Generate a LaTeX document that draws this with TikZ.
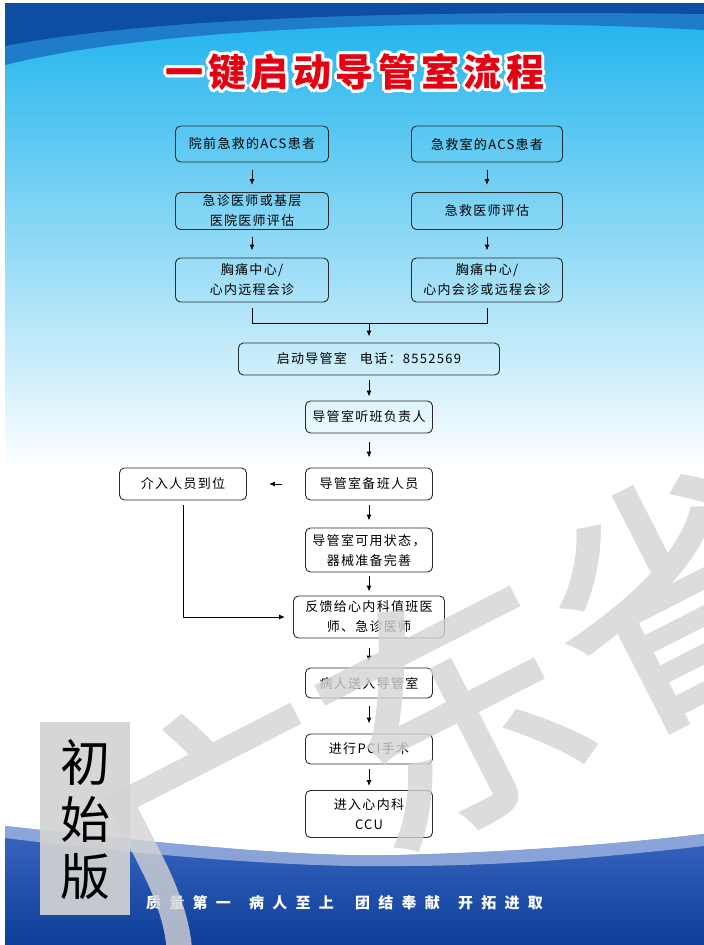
\documentclass[tikz,border=0pt]{standalone}
\usepackage{fontspec}
\usepackage{xcolor}
\usetikzlibrary{arrows.meta}
\newfontfamily\cjk{Noto Sans CJK SC}
\newfontfamily\boxfont{Noto Sans CJK SC}[LetterSpace=10]
\newfontfamily\titlefont{Noto Sans CJK SC}[LetterSpace=12]
\newfontfamily\slogfont{Noto Sans CJK SC}[LetterSpace=55]
\newfontfamily\markfont{Noto Sans CJK SC}[FakeBold=2]
\definecolor{skytop}{HTML}{1AB2EC}
\definecolor{darkband}{HTML}{0B4EA2}
\definecolor{midband}{HTML}{1E7CC8}
\definecolor{bandtop}{HTML}{3A67C2}
\definecolor{bandbot}{HTML}{0D3E97}
\definecolor{boxline}{HTML}{2B2B2B}
\definecolor{titlered}{HTML}{E60012}
\definecolor{verbox}{HTML}{D3D3D3}
\definecolor{wmgray}{HTML}{D4D4D4}

\begin{document}
\begin{tikzpicture}[x=1pt,y=-1pt,
	box/.style={draw=boxline,line width=0.9pt,rounded corners=5pt,align=center,inner sep=0pt,font=\boxfont\fontsize{13}{20}\selectfont},
	arr/.style={-{Latex[length=6pt,width=5pt]},line width=1pt},
	ln/.style={line width=1pt},
	ttl/.style={font=\titlefont\bfseries\fontsize{38}{40}\selectfont},
	slog/.style={font=\slogfont\bfseries\fontsize{15}{17}\selectfont,text=white,anchor=west,inner sep=0pt},
	wm/.style={text=wmgray,font=\markfont\fontsize{255}{255}\selectfont}]
		\useasboundingbox (0,0) rectangle (704,945);
		%Background
			\fill[white] (0,0) rectangle (704,945);
			\shade[top color=skytop,bottom color=white] (5,3) rectangle (704,470);
			\fill[midband] (5,3) -- (704,3) -- (704,30) .. controls (450,16) and (150,28) .. (5,65) -- cycle;
			\fill[darkband] (5,3) -- (704,3) -- (704,14) .. controls (400,10) and (150,18) .. (5,46) -- cycle;
			\shade[top color=bandtop,bottom color=bandbot] (5,826) .. controls (150,842) and (300,858) .. (400,855) .. controls (550,851) and (650,840) .. (704,834) -- (704,945) -- (5,945) -- cycle;
			\fill[white!60!bandtop,opacity=0.7] (5,826) .. controls (150,842) and (300,858) .. (400,855) .. controls (550,851) and (650,840) .. (704,834) -- (704,846) .. controls (600,858) and (500,866) .. (400,866) .. controls (300,868) and (150,856) .. (5,838) -- cycle;
		%Title
			\foreach \a in {0,30,...,330}
			{
				\path (355,72) ++(\a:3) node[ttl,text=white]{一键启动导管室流程};
			}
			\node[ttl,text=titlered] (title) at (355,72) {一键启动导管室流程};
		%Two entries
			\node[box,minimum width=153,minimum height=36] (pre) at (252,144) {院前急救的ACS患者};
			\node[box,minimum width=153,minimum height=37] (prev) at (252,211) {急诊医师或基层\\医院医师评估};
			\node[box,minimum width=153,minimum height=44] (prec) at (252,280) {胸痛中心/\\心内远程会诊};
			\node[box,minimum width=151,minimum height=36] (er) at (487,144) {急救室的ACS患者};
			\node[box,minimum width=151,minimum height=37] (erv) at (487,211) {急救医师评估};
			\node[box,minimum width=151,minimum height=44] (erc) at (487,280) {胸痛中心/\\心内会诊或远程会诊};
		%Main column
			\node[box,minimum width=261,minimum height=32] (start) at (369,359) {启动导管室\quad 电话：8552569};
			\node[box,minimum width=127,minimum height=32] (duty) at (369,417) {导管室听班负责人};
			\node[box,minimum width=127,minimum height=32] (backup) at (369,484) {导管室备班人员};
			\node[box,minimum width=127,minimum height=32] (staff) at (183,484) {介入人员到位};
			\node[box,minimum width=127,minimum height=44] (ready) at (369,550) {导管室可用状态，\\器械准备完善};
			\node[box,minimum width=151,minimum height=42] (feedback) at (369,617) {反馈给心内科值班医\\师、急诊医师};
			\node[box,minimum width=127,minimum height=30] (send) at (369,683) {病人送入导管室};
			\node[box,minimum width=127,minimum height=30] (pci) at (369,749) {进行PCI手术};
			\node[box,minimum width=127,minimum height=47] (ccu) at (369,814) {进入心内科\\CCU};
		%Arrows
			\foreach \u/\v/\s/\e in {pre/prev/8/7,prev/prec/7/7,er/erv/8/7,erv/erc/7/7,start/duty/5/4,duty/backup/9/10,backup/ready/5/7,ready/feedback/4/4,feedback/send/10/6,send/pci/8/10,pci/ccu/5/4}
			{
				\draw[arr,shorten <=\s pt,shorten >=\e pt] (\u) -- (\v);
			}
			\coordinate (merge) at (369,323);
			\draw[ln,shorten <=6pt,shorten >=6pt] (prec) -- (prec |- merge) -- (erc |- merge) -- (erc);
			\draw[arr,shorten >=6pt] (merge) -- (start);
			\draw[arr,shorten <=23pt,shorten >=22pt] (backup) -- (staff);
			\draw[arr,shorten <=5pt,shorten >=8pt] (staff) |- (feedback);
		%Slogan
			\node[slog] (slogA) at (146,903) {质量第一};
			\node[slog] (slogB) at (249,903) {病人至上};
			\node[slog] (slogC) at (355,903) {团结奉献};
			\node[slog] (slogD) at (458,903) {开拓进取};
		%Watermark
			\begin{scope}[transparency group,opacity=0.8]
				\node[wm,rotate=27] (mark) at (452,712) {广东省};
			\end{scope}
		%Version tag
			\fill[verbox,opacity=0.92] (40,722) rectangle (130,915);
			\node[font=\cjk\fontsize{50}{57}\selectfont,align=center] (version) at (85,820) {初\\始\\版};
		%Edges
			\fill[white] (0,0) rectangle (5,945);
			\fill[white] (0,0) rectangle (704,3);
\end{tikzpicture}
\end{document}
